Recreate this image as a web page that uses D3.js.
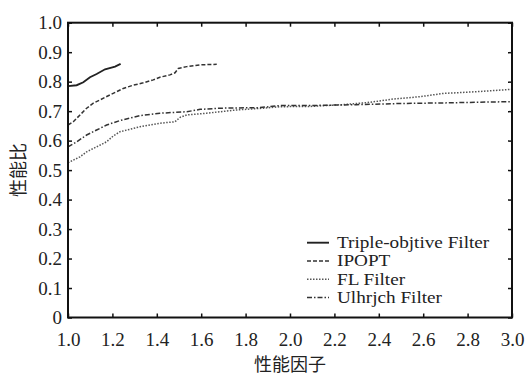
<!DOCTYPE html>
<html>
<head>
<meta charset="utf-8">
<script src="https://cdn.jsdelivr.net/npm/d3@7"></script>
<style>
  body { margin: 0; background: #fff; }
  svg { display: block; }
</style>
</head>
<body>
<div class="chart"></div>
<script>
// performance profile data
var xTicks = [1.0, 1.2, 1.4, 1.6, 1.8, 2.0, 2.2, 2.4, 2.6, 2.8, 3.0];
var yTicks = [0, 0.1, 0.2, 0.3, 0.4, 0.5, 0.6, 0.7, 0.8, 0.9, 1.0];
var seriesNames = ["Triple-objtive Filter", "IPOPT", "FL Filter", "Ulhrjch Filter"];

var tripleFilter = [[1.0, 0.785], [1.039, 0.788], [1.069, 0.798], [1.099, 0.815], [1.129, 0.826],
  [1.167, 0.842], [1.212, 0.851], [1.237, 0.860]];
var ipopt = [[1.0, 0.653], [1.024, 0.664], [1.054, 0.687], [1.084, 0.71], [1.114, 0.727], [1.144, 0.738],
  [1.189, 0.755], [1.219, 0.766], [1.249, 0.777], [1.294, 0.788], [1.339, 0.796], [1.384, 0.806],
  [1.414, 0.815], [1.459, 0.823], [1.482, 0.830], [1.497, 0.845], [1.535, 0.851], [1.595, 0.857],
  [1.670, 0.859]];
var flFilter = [[1.0, 0.525], [1.024, 0.534], [1.054, 0.545], [1.084, 0.562], [1.129, 0.579],
  [1.174, 0.596], [1.204, 0.616], [1.234, 0.630], [1.324, 0.647], [1.414, 0.659], [1.482, 0.664],
  [1.505, 0.679], [1.535, 0.687], [1.625, 0.693], [1.685, 0.698], [1.760, 0.704], [1.880, 0.710],
  [1.955, 0.715], [2.09, 0.716], [2.24, 0.722], [2.36, 0.730], [2.465, 0.741], [2.586, 0.749],
  [2.69, 0.760], [2.84, 0.766], [3.0, 0.774]];
var ulrichFilter = [[1.0, 0.579], [1.039, 0.596], [1.084, 0.619], [1.129, 0.636], [1.174, 0.653],
  [1.234, 0.668], [1.324, 0.685], [1.414, 0.693], [1.535, 0.698], [1.595, 0.706], [1.685, 0.710],
  [1.865, 0.712], [1.955, 0.719], [2.09, 0.719], [2.3, 0.722], [2.5, 0.726], [2.7, 0.728],
  [2.9, 0.731], [3.0, 0.732]];

var allSeries = [tripleFilter, ipopt, flFilter, ulrichFilter];
var dashes = [null, "4,2", "1.5,1.5", "5,2,1.5,2"];
var strokes = ["#222", "#333", "#555", "#333"];
var widths = [1.9, 1.5, 1.5, 1.5];

var width = 527, height = 375;
var plotLeft = 68, plotRight = 512, plotTop = 22.7, plotBottom = 317.5;

var svg = d3.select(".chart").append("svg")
    .attr("width", width)
    .attr("height", height);

var x = d3.scaleLinear().domain([1, 3]).range([plotLeft, plotRight]);
var y = d3.scaleLinear().domain([0, 1]).range([plotBottom, plotTop]);

var serif = "'Liberation Serif', 'DejaVu Serif', serif";
var fmtY = function(d) { return d === 0 ? "0" : d3.format(".1f")(d); };

// axes with inward ticks on all four sides
var gx = svg.append("g")
    .attr("transform", "translate(0," + plotBottom + ")")
    .call(d3.axisBottom(x).tickValues(xTicks).tickSize(-4).tickPadding(15).tickFormat(d3.format(".1f")));
var gy = svg.append("g")
    .attr("transform", "translate(" + plotLeft + ",0)")
    .call(d3.axisLeft(y).tickValues(yTicks).tickSize(-4).tickPadding(6).tickFormat(fmtY));
var gt = svg.append("g")
    .attr("transform", "translate(0," + plotTop + ")")
    .call(d3.axisTop(x).tickValues(xTicks).tickSize(-4).tickFormat(""));
var gr = svg.append("g")
    .attr("transform", "translate(" + plotRight + ",0)")
    .call(d3.axisRight(y).tickValues(yTicks).tickSize(-4).tickFormat(""));

[gx, gy, gt, gr].forEach(function(g) {
  g.select(".domain").remove();
  g.selectAll(".tick line").attr("stroke", "#111").attr("stroke-width", 1.5);
  g.selectAll(".tick text")
    .attr("fill", "#222")
    .style("font-family", serif)
    .style("font-size", "19px");
});

// curves
var line = d3.line()
    .x(function(d) { return x(d[0]); })
    .y(function(d) { return y(d[1]); });

svg.selectAll(".curve")
  .data(allSeries)
  .enter().append("path")
    .attr("class", "curve")
    .attr("d", line)
    .attr("fill", "none")
    .attr("stroke", function(d, i) { return strokes[i]; })
    .attr("stroke-width", function(d, i) { return widths[i]; })
    .attr("stroke-dasharray", function(d, i) { return dashes[i]; });

// frame
svg.append("rect")
    .attr("x", plotLeft)
    .attr("y", plotTop)
    .attr("width", plotRight - plotLeft)
    .attr("height", plotBottom - plotTop)
    .attr("fill", "none")
    .attr("stroke", "#111")
    .attr("stroke-width", 2);

// legend (text is a little wide and short in the original, so stretch it)
var legend = svg.append("g")
  .selectAll("g")
  .data(seriesNames)
  .enter().append("g")
    .attr("transform", function(d, i) { return "translate(0," + (242.7 + i * 18.3) + ")"; });

legend.append("line")
    .attr("x1", 307)
    .attr("x2", 329)
    .attr("stroke", function(d, i) { return strokes[i]; })
    .attr("stroke-width", function(d, i) { return widths[i]; })
    .attr("stroke-dasharray", function(d, i) { return dashes[i]; });

legend.append("text")
    .attr("transform", "translate(337,0) scale(1.2,1)")
    .attr("dy", "0.34em")
    .attr("fill", "#222")
    .style("font-family", serif)
    .style("font-size", "16px")
    .text(function(d) { return d; });

// axis titles
svg.append("text")
    .attr("x", 290)
    .attr("y", 365)
    .attr("dy", "0.35em")
    .attr("text-anchor", "middle")
    .attr("fill", "#222")
    .style("font-family", "'Noto Sans CJK SC', sans-serif")
    .style("font-size", "18px")
    .text("性能因子");

svg.append("text")
    .attr("transform", "translate(19,170) rotate(-90)")
    .attr("dy", "0.35em")
    .attr("text-anchor", "middle")
    .attr("fill", "#222")
    .style("font-family", "'Noto Sans CJK SC', sans-serif")
    .style("font-size", "18px")
    .text("性能比");
</script>
</body>
</html>
